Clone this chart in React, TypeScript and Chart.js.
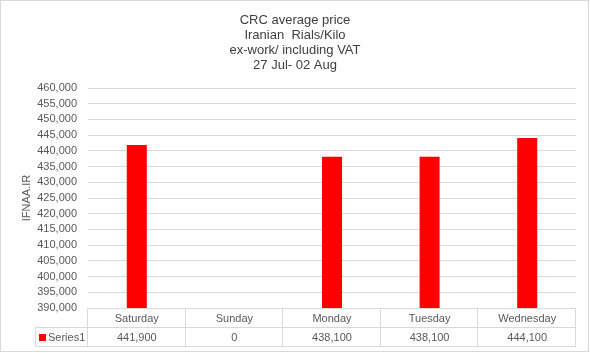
import React, { useEffect, useRef } from 'react';
import { Chart, registerables } from 'chart.js';

Chart.register(...registerables);

const categories = ['Saturday', 'Sunday', 'Monday', 'Tuesday', 'Wednesday'];
const seriesName = 'Series1';
const values = [441900, 0, 438100, 438100, 444100];
const titleLines = ['CRC average price', 'Iranian  Rials/Kilo', 'ex-work/ including VAT', '27 Jul- 02 Aug'];
const yAxisTitle = 'IFNAA.IR';
const yMin = 390000;
const yMax = 460000;
const yStep = 5000;

const FONT = '"Liberation Sans", Arial, sans-serif';
const TEXT = '#595959';
const GRID = '#d9d9d9';
const BAR = '#ff0000';

const fmt = (v: number) => v.toLocaleString('en-US');

const titlePlugin = {
  id: 'multiTitle',
  afterDraw(chart: any) {
    const { ctx, width } = chart;
    ctx.save();
    ctx.font = `13px ${FONT}`;
    ctx.fillStyle = '#404040';
    ctx.textAlign = 'center';
    ctx.textBaseline = 'alphabetic';
    titleLines.forEach((t, i) => {
      ctx.fillText(t, width / 2, 24 + i * 15.1);
    });
    ctx.restore();
  },
};

const tablePlugin = {
  id: 'dataTable',
  afterDraw(chart: any) {
    const { ctx, chartArea: ca, scales } = chart;
    const x = scales.x;
    const n = categories.length;
    const top = Math.floor(ca.bottom) + 0.5;
    const rowH = 19;
    const r1 = top + rowH;
    const r2 = r1 + rowH;
    const legendLeft = 35.5;
    const colW = (ca.right - ca.left) / n;
    ctx.save();
    ctx.strokeStyle = GRID;
    ctx.lineWidth = 1;
    const line = (x1: number, y1: number, x2: number, y2: number) => {
      ctx.beginPath();
      ctx.moveTo(x1, y1);
      ctx.lineTo(x2, y2);
      ctx.stroke();
    };
    line(ca.left, top, ca.right, top);
    line(legendLeft, r1, ca.right, r1);
    line(legendLeft, r2, ca.right, r2);
    line(legendLeft, r1, legendLeft, r2);
    for (let i = 0; i <= n; i++) {
      const xb = Math.round(ca.left + i * colW) - 0.5;
      line(xb, top, xb, r2);
    }
    ctx.font = `11px ${FONT}`;
    ctx.fillStyle = TEXT;
    ctx.textAlign = 'center';
    ctx.textBaseline = 'middle';
    categories.forEach((c, i) => {
      const cx = x.getPixelForValue(i);
      ctx.fillText(c, cx, top + rowH / 2 + 0.5);
      ctx.fillText(fmt(values[i]), cx, r1 + rowH / 2 + 0.5);
    });
    // legend key
    ctx.fillStyle = BAR;
    ctx.fillRect(39, Math.round(r1 + rowH / 2 - 3.5), 7, 7);
    ctx.fillStyle = TEXT;
    ctx.textAlign = 'left';
    ctx.fillText(seriesName, 48, r1 + rowH / 2 + 0.5);
    // outer border
    ctx.strokeStyle = GRID;
    ctx.strokeRect(0.5, 0.5, chart.width - 2, chart.height - 2);
    ctx.restore();
  },
};

export default function App() {
  const ref = useRef<HTMLCanvasElement>(null);
  useEffect(() => {
    document.body.style.margin = '0';
    const chart = new Chart(ref.current!, {
      type: 'bar',
      data: {
        labels: categories,
        datasets: [
          {
            label: seriesName,
            data: values,
            backgroundColor: BAR,
            borderWidth: 0,
            categoryPercentage: 1,
            barPercentage: 0.205,
          },
        ],
      },
      options: {
        animation: false,
        responsive: false,
        devicePixelRatio: 1,
        layout: { padding: { left: 0, right: 14, top: 88, bottom: 0 } },
        plugins: {
          legend: { display: false },
          tooltip: { enabled: false },
          title: { display: false },
        },
        scales: {
          x: {
            grid: { display: false },
            border: { display: false },
            ticks: { display: false },
            afterFit: (s: any) => {
              s.height = 45;
            },
          },
          y: {
            min: yMin,
            max: yMax,
            grid: { color: GRID, drawTicks: false },
            border: { display: false },
            ticks: {
              stepSize: yStep,
              autoSkip: false,
              padding: 11,
              color: TEXT,
              font: { family: FONT, size: 11 },
              callback: (v: any) => fmt(Number(v)),
            },
            title: {
              display: true,
              text: yAxisTitle,
              color: TEXT,
              font: { family: FONT, size: 11 },
              padding: { top: 20, bottom: 0 },
            },
            afterFit: (s: any) => {
              s.width = 88;
            },
          },
        },
      },
      plugins: [titlePlugin, tablePlugin],
    });
    return () => chart.destroy();
  }, []);
  return (
    <div style={{ width: 590, height: 353 }}>
      <canvas ref={ref} width={590} height={353} />
    </div>
  );
}
